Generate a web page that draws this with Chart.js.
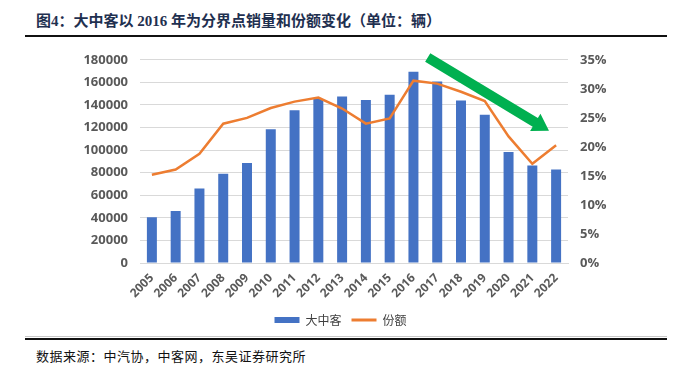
<!DOCTYPE html>
<html>
<head>
<meta charset="utf-8">
<script src="https://cdn.jsdelivr.net/npm/chart.js@4/dist/chart.umd.min.js"></script>
<style>
  body { margin: 0; width: 681px; height: 370px; background: #fff; position: relative; overflow: hidden; }
  #title { position: absolute; left: 36px; top: 9px; font: bold 15px "Liberation Serif", "Noto Sans CJK SC", serif; color: #1f3050; white-space: nowrap; }
  #topline { position: absolute; left: 25px; top: 35px; width: 642px; height: 2px; background: #111; }
  #wrap { position: absolute; left: 0; top: 40px; width: 681px; height: 296px; }
  #grayline { position: absolute; left: 25px; top: 336px; width: 642px; height: 1px; background: #c8c8c8; }
  #botline { position: absolute; left: 25px; top: 338px; width: 642px; height: 2px; background: #111; }
  #source { position: absolute; left: 36px; top: 346px; font: 13px "Liberation Serif", "Noto Sans CJK SC", serif; color: #111; white-space: nowrap; letter-spacing: 0.5px; }
</style>
</head>
<body>
<div id="title">图4：大中客以 2016 年为分界点销量和份额变化（单位：辆）</div>
<div id="topline"></div>
<div id="wrap"><canvas id="myChart"></canvas></div>
<div id="grayline"></div>
<div id="botline"></div>
<div id="source">数据来源：中汽协，中客网，东吴证券研究所</div>
<script>
// données
const years = ['2005', '2006', '2007', '2008', '2009', '2010', '2011', '2012', '2013',
  '2014', '2015', '2016', '2017', '2018', '2019', '2020', '2021', '2022'];
const ventes = [40500, 46000, 66000, 79000, 88500, 118500, 135300, 145200, 147500,
  144300, 149100, 169500, 160800, 144000, 131400, 98400, 86400, 82800];
const parts = [15.2, 16.1, 18.8, 24.0, 25.0, 26.7, 27.8, 28.5, 26.6,
  24.0, 24.9, 31.4, 30.9, 29.5, 27.9, 21.8, 17.1, 20.3];
const leftTicks = [0, 20000, 40000, 60000, 80000, 100000, 120000, 140000, 160000, 180000];
const rightTicks = [0, 5, 10, 15, 20, 25, 30, 35];
// flèche verte : [index catégorie, %]
const arrowFrom = [11.6, 35.4];
const arrowTo = [16.7, 22.8];

const tickFont = { family: '"Open Sans", "Noto Sans", sans-serif', size: 13, weight: 'bold' };

// flèche dessinée avec les échelles du graphique
const arrowPlugin = {
  id: 'arrow',
  afterDatasetsDraw(chart) {
    const x = chart.scales.x, y1 = chart.scales.y1;
    const x0 = x.getPixelForValue(arrowFrom[0]), y0 = y1.getPixelForValue(arrowFrom[1]);
    const xt = x.getPixelForValue(arrowTo[0]), yt = y1.getPixelForValue(arrowTo[1]);
    const ang = Math.atan2(yt - y0, xt - x0);
    const len = Math.hypot(xt - x0, yt - y0);
    const headLen = 16, headW = 10, shaftW = 5;
    const c = chart.ctx;
    c.save();
    c.translate(x0, y0);
    c.rotate(ang);
    c.beginPath();
    c.moveTo(0, -shaftW);
    c.lineTo(len - headLen, -shaftW);
    c.lineTo(len - headLen, -headW);
    c.lineTo(len, 0);
    c.lineTo(len - headLen, headW);
    c.lineTo(len - headLen, shaftW);
    c.lineTo(0, shaftW);
    c.closePath();
    c.fillStyle = '#00b050';
    c.fill();
    c.restore();
  }
};

const ctx = document.getElementById('myChart').getContext('2d');
const myChart = new Chart(ctx, {
  type: 'bar',
  data: {
    labels: years,
    datasets: [
      {
        type: 'line',
        label: '份额',
        data: parts,
        yAxisID: 'y1',
        borderColor: '#ed7d31',
        backgroundColor: '#ed7d31',
        borderWidth: 2.5,
        pointRadius: 0,
        tension: 0,
        order: 0
      },
      {
        label: '大中客',
        data: ventes,
        yAxisID: 'y',
        backgroundColor: '#4472c4',
        barPercentage: 0.42,
        categoryPercentage: 1,
        order: 1
      }
    ]
  },
  options: {
    responsive: true,
    maintainAspectRatio: false,
    animation: false,
    layout: { padding: { top: 18, bottom: 0, left: 0, right: 0 } },
    plugins: {
      tooltip: { enabled: false },
      legend: {
        position: 'bottom',
        reverse: true,
        labels: {
          usePointStyle: true,
          pointStyleWidth: 25,
          boxHeight: 6,
          padding: 10,
          color: '#404040',
          font: { family: '"Noto Sans CJK SC", sans-serif', size: 12 },
          generateLabels(chart) {
            const items = Chart.defaults.plugins.legend.labels.generateLabels(chart);
            return items.map(it => {
              if (it.datasetIndex === 1) {
                it.pointStyle = 'rect';
                it.fillStyle = '#4472c4';
                it.strokeStyle = '#4472c4';
                it.lineWidth = 0;
              } else {
                it.pointStyle = 'line';
                it.strokeStyle = '#ed7d31';
                it.lineWidth = 3;
              }
              return it;
            });
          }
        }
      }
    },
    scales: {
      x: {
        grid: { display: false },
        border: { color: '#d9d9d9' },
        ticks: {
          color: '#595959',
          font: { family: tickFont.family, size: 12, weight: 'bold' },
          minRotation: 45,
          maxRotation: 45,
          autoSkip: false,
          padding: 0
        },
        afterFit(s) { s.height = 41; }
      },
      y: {
        position: 'left',
        min: 0,
        max: 180000,
        afterBuildTicks(s) { s.ticks = leftTicks.map(v => ({ value: v })); },
        grid: { color: '#d9d9d9', drawTicks: false },
        border: { display: false },
        ticks: { color: '#595959', font: tickFont, padding: 12, callback: v => String(v) },
        afterFit(s) { s.width = 140; }
      },
      y1: {
        position: 'right',
        min: 0,
        max: 35,
        afterBuildTicks(s) { s.ticks = rightTicks.map(v => ({ value: v })); },
        grid: { display: false, drawTicks: false },
        border: { display: false },
        ticks: { color: '#595959', font: tickFont, padding: 12, callback: v => v + '%' },
        afterFit(s) { s.width = 113; }
      }
    }
  },
  plugins: [arrowPlugin]
});
</script>
</body>
</html>
